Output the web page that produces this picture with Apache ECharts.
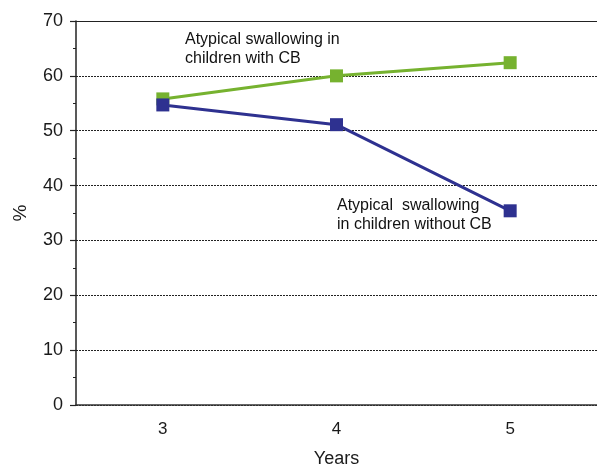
<!DOCTYPE html>
<html><head><meta charset="utf-8">
<script src="https://cdn.jsdelivr.net/npm/echarts@6/dist/echarts.min.js"></script>
<style>html,body{margin:0;padding:0;background:#fff}#c{width:597px;height:466px}</style>
</head><body><div id="c"></div>
<script>
var years = ['3', '4', '5'];
var withCB = [55.8, 60.0, 62.4];
var withoutCB = [54.7, 51.1, 35.4];
var yTicks = [0, 10, 20, 30, 40, 50, 60, 70];

var font = 'Liberation Sans, Arial, sans-serif';
var chart = echarts.init(document.getElementById('c'));
chart.setOption({
  animation: false,
  backgroundColor: '#fff',
  grid: { left: 76, right: 0, top: 21, bottom: 61, outerBoundsMode: 'none', containLabel: false },
  xAxis: [
    { type: 'category', data: years, boundaryGap: true, position: 'bottom',
      name: 'Years', nameLocation: 'middle', nameGap: 45,
      nameTextStyle: { fontFamily: font, fontSize: 18, color: '#1a1a1a', verticalAlign: 'top' },
      axisLine: { lineStyle: { color: '#333', width: 1.5 } },
      axisTick: { alignWithLabel: true, length: 5, lineStyle: { color: '#333', width: 1.5 } },
      axisLabel: { fontFamily: font, fontSize: 17, color: '#1a1a1a', margin: 16 },
      splitLine: { show: false } },
    { type: 'category', data: years, boundaryGap: true, position: 'bottom',
      axisLine: { show: false },
      axisTick: { alignWithLabel: true, inside: true, length: 5, lineStyle: { color: '#333', width: 1.5 } },
      axisLabel: { show: false }, splitLine: { show: false } },
    { type: 'category', data: years, position: 'top',
      axisLine: { lineStyle: { color: '#222', width: 1.2 } },
      axisTick: { show: false }, axisLabel: { show: false }, splitLine: { show: false } }
  ],
  yAxis: [
    { type: 'value', min: yTicks[0], max: yTicks[yTicks.length - 1], interval: 10,
      name: '%', nameLocation: 'middle', nameGap: 46, nameRotate: 90,
      nameTextStyle: { fontFamily: font, fontSize: 19, color: '#1a1a1a' },
      axisLine: { show: true, lineStyle: { color: '#222', width: 1.5 } },
      axisTick: { show: true, length: 6, lineStyle: { color: '#222', width: 1.2 } },
      minorTick: { show: true, splitNumber: 2, length: 3, lineStyle: { color: '#222', width: 1 } },
      axisLabel: { fontFamily: font, fontSize: 18, color: '#1a1a1a', margin: 13 },
      splitLine: { show: true, lineStyle: { color: '#222', type: [2, 1], width: 1 } } },
    { type: 'value', min: yTicks[0], max: yTicks[yTicks.length - 1], interval: 10, position: 'left',
      axisLine: { show: false },
      axisTick: { show: false },
      minorTick: { show: true, splitNumber: 2, length: 3, lineStyle: { color: '#222', width: 1 } },
      axisLabel: { show: false }, splitLine: { show: false } }
  ],
  series: [
    { name: 'with CB', type: 'line', data: withCB, xAxisIndex: 0, yAxisIndex: 0,
      symbol: 'rect', symbolSize: 13,
      lineStyle: { color: '#76b22f', width: 3 }, itemStyle: { color: '#76b22f' } },
    { name: 'without CB', type: 'line', data: withoutCB, xAxisIndex: 0, yAxisIndex: 0,
      symbol: 'rect', symbolSize: 13,
      lineStyle: { color: '#2e3190', width: 3 }, itemStyle: { color: '#2e3190' } }
  ],
  graphic: [
    { type: 'text', left: 185, top: 30,
      style: { text: 'Atypical swallowing in\nchildren with CB', fontFamily: font, fontSize: 16, lineHeight: 19, fill: '#111' } },
    { type: 'text', left: 337, top: 196,
      style: { text: 'Atypical  swallowing\nin children without CB', fontFamily: font, fontSize: 16, lineHeight: 19, fill: '#111' } }
  ]
});
</script></body></html>
